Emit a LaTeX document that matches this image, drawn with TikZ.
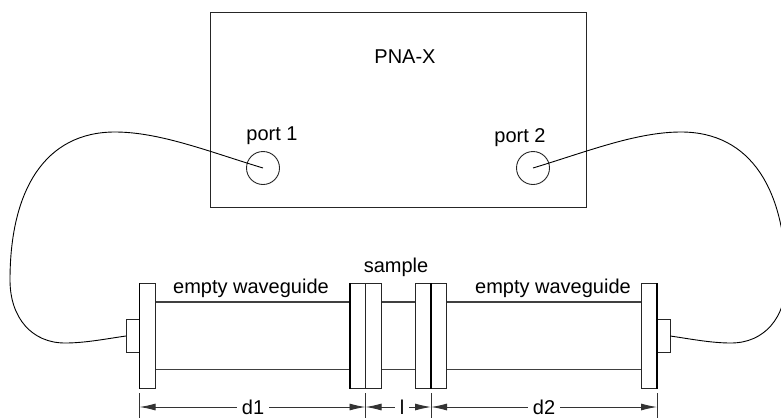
\documentclass[tikz,border=0pt]{standalone}
\usepackage{fontspec}
\setmainfont{Liberation Sans}
\usetikzlibrary{arrows.meta}
\tikzset{
  x=1pt,y=-1pt,
  part/.style={draw=black!85,line width=1pt,fill=white,inner sep=0pt,outer sep=0pt},
  lbl/.style={font=\fontsize{20}{22}\selectfont,text=black,inner sep=0pt},
  cable/.style={draw=black,line width=0.9pt},
  tube/.style={draw=black!75,line width=1.1pt},
  ext/.style={draw=black!80,line width=0.9pt},
  dim/.style={draw=black!80,line width=0.9pt,-{Latex[length=16pt,width=7pt]},shorten <=3pt},
  dimlbl/.style={lbl,inner xsep=2pt}
}
\begin{document}
\begin{tikzpicture}
\useasboundingbox (0,0) rectangle (781,418);
\clip (0,0) rectangle (781,418);
% instrument
\node[part,minimum width=376pt,minimum height=195pt] (pna) at (398,109.5) {};
\node[lbl] (pnalbl) at (405,57) {PNA-X};
\node[part,circle,minimum size=33pt,line width=0.9pt] (p1) at (263,168) {};
\node[part,circle,minimum size=33pt,line width=0.9pt] (p2) at (533,168) {};
\node[lbl] (p1lbl) at (272,136) {port 1};
\node[lbl] (p2lbl) at (520,138) {port 2};
% connectors on the flanges
\node[part,minimum width=13.5pt,minimum height=33.5pt] (cl) at (132.75,335.75) {};
\node[part,minimum width=13.5pt,minimum height=33.5pt] (cr) at (663.5,335.75) {};
% waveguide sections
\node[part,draw=none,minimum width=195pt,minimum height=67.5pt] (wl) at (252.75,335.75) {};
\draw[tube] (wl.north west) -- (wl.north east) (wl.south west) -- (wl.south east);
\node[part,draw=none,minimum width=194pt,minimum height=67.5pt] (wr) at (544,335.75) {};
\draw[tube] (wr.north west) -- (wr.north east) (wr.south west) -- (wr.south east);
\node[part,draw=none,minimum width=34.5pt,minimum height=67.5pt] (smp) at (398.25,335.75) {};
\draw[tube] (smp.north west) -- (smp.north east) (smp.south west) -- (smp.south east);
% flanges
\node[part,minimum width=16pt,minimum height=105.5pt] (f1) at (147.5,335.75) {};
\node[part,minimum width=15.5pt,minimum height=105.5pt] (f2) at (357.75,335.75) {};
\node[part,minimum width=15.5pt,minimum height=105.5pt] (f3) at (373.25,335.75) {};
\node[part,minimum width=15.5pt,minimum height=105.5pt] (f4) at (423.25,335.75) {};
\node[part,minimum width=15.5pt,minimum height=105.5pt] (f5) at (438.75,335.75) {};
\node[part,minimum width=16pt,minimum height=105.5pt] (f6) at (649,335.75) {};
\draw[black,line width=1.5pt] (f4.north east) -- (f4.south east);
\draw[black,line width=1.5pt] (f6.north east) -- (f6.south east);
\draw[black,line width=1.3pt] (f1.north west) -- (f1.south west);
\draw[black,line width=1.3pt] (f2.north west) -- (f2.south west);
% cables
\draw[cable] (p1.center) .. controls (210,152) and (160,132) .. (115,132)
  .. controls (45,132) and (10,190) .. (10,280)
  .. controls (10,318) and (32,343) .. (65,343)
  .. controls (85,343) and (105,339) .. (cl.west |- 0,336);
\draw[cable] (p2.center) .. controls (586,152) and (636,132) .. (681,132)
  .. controls (751,132) and (786,190) .. (786,280)
  .. controls (786,318) and (764,343) .. (731,343)
  .. controls (711,343) and (691,339) .. (cr.east |- 0,336);
% labels
\node[lbl] (ew1) at (251,288) {empty waveguide};
\node[lbl] (ew2) at (553,288) {empty waveguide};
\node[lbl] (slbl) at (396,267) {sample};
% extension lines
\coordinate (e1t) at (139.5,393); \coordinate (e1b) at (139.5,418);
\coordinate (e2t) at (365.5,393); \coordinate (e2b) at (365.5,418);
\coordinate (e3t) at (431,393);   \coordinate (e3b) at (431,418);
\coordinate (e4t) at (657,393);   \coordinate (e4b) at (657,418);
\draw[ext] (e1t) -- (e1b) (e2t) -- (e2b) (e3t) -- (e3b) (e4t) -- (e4b);
% dimensions
\coordinate (a1) at (139.5,407); \coordinate (a2) at (365.5,407);
\coordinate (a3) at (431,407);   \coordinate (a4) at (657,407);
\node[dimlbl] (d1) at (253,407) {d1};
\node[dimlbl] (dl) at (402,407) {l};
\node[dimlbl] (d2) at (544,407) {d2};
\draw[dim] (d1) -- (a1);
\draw[dim] (d1) -- (a2);
\draw[dim] (dl) -- (a2);
\draw[dim] (dl) -- (a3);
\draw[dim] (d2) -- (a3);
\draw[dim] (d2) -- (a4);
\end{tikzpicture}
\end{document}
